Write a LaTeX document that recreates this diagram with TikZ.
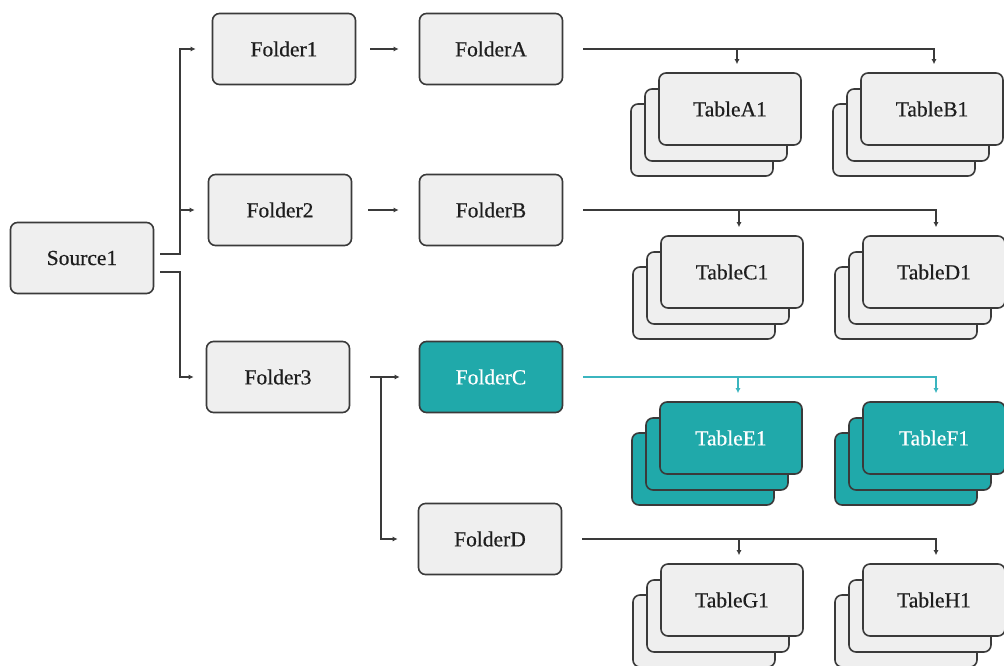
\documentclass[tikz,border=0pt]{standalone}
\usepackage{fontspec}
\setmainfont{Liberation Serif}[FakeBold=0.5]
\usetikzlibrary{arrows.meta,calc}
\definecolor{boxfill}{HTML}{EFEFEF}
\definecolor{boxline}{HTML}{3A3A3A}
\definecolor{tealfill}{HTML}{20A9AA}
\definecolor{teallink}{HTML}{3BB5BF}
\definecolor{inktext}{HTML}{1E1E1E}
\tikzset{
  box/.style={draw=boxline, fill=boxfill, rounded corners=7pt, line width=1.6pt,
    minimum width=143pt, minimum height=71pt, inner sep=0pt, text=inktext,
    font=\fontsize{21.5}{24}\selectfont},
  tbl/.style={box, minimum width=142pt, minimum height=72pt},
  hl/.style={fill=tealfill, text=white},
  link/.style={draw=boxline, line width=1.4pt, -{Latex[length=5pt,width=5pt]}},
  hllink/.style={link, draw=teallink, -{Latex[length=5pt,width=5pt,color=teallink]}}
}
\newcommand{\tablestack}[4]{% name, x, y, extra style
  \node[tbl,#4] (#1c) at (#2-28,#3+31) {};
  \node[tbl,#4] (#1b) at (#2-14,#3+16) {};
  \node[tbl,#4] (#1) at (#2,#3) {Table#1};
}
\begin{document}
\begin{tikzpicture}[x=1pt,y=-1pt]
\useasboundingbox (0,0) rectangle (1004,665);

% source and first level folders
\node[box] (src) at (82,258) {Source1};
\node[box] (f1) at (284,49) {Folder1};
\node[box] (f2) at (280,210) {Folder2};
\node[box] (f3) at (278,377) {Folder3};

% second level folders
\node[box] (fA) at (491,49) {FolderA};
\node[box] (fB) at (491,210) {FolderB};
\node[box,hl] (fC) at (491,377) {FolderC};
\node[box] (fD) at (490,539) {FolderD};

% table stacks
\tablestack{A1}{730}{109}{}
\tablestack{B1}{932}{109}{}
\tablestack{C1}{732}{272}{}
\tablestack{D1}{934}{272}{}
\tablestack{E1}{731}{438}{hl}
\tablestack{F1}{934}{438}{hl}
\tablestack{G1}{732}{600}{}
\tablestack{H1}{934}{600}{}

% junction points
\coordinate (j1) at (180,254);
\coordinate (j2) at (180,272);
\coordinate (j3) at (381,377);

% source to first level
\draw[link] ([xshift=6pt,yshift=4pt]src.east) -- (j1) |- ([xshift=-16pt]f1.west);
\draw[link] (j1 |- f2.west) -- ([xshift=-13pt]f2.west);
\draw[link] ([xshift=6pt,yshift=-14pt]src.east) -- (j2) |- ([xshift=-12pt]f3.west);

% first level to second level
\draw[link] ([xshift=14pt]f1.east) -- ([xshift=-20pt]fA.west);
\draw[link] ([xshift=16pt]f2.east) -- ([xshift=-20pt]fB.west);
\draw[link] ([xshift=20pt]f3.east) -- ([xshift=-19pt]fC.west);
\draw[link] (j3) |- ([xshift=-20pt]fD.west);

% folders to tables
\foreach \f/\a/\b in {fA/A1/B1, fB/C1/D1, fD/G1/H1}{
  \draw[link, shorten >=8pt] ([xshift=20pt]\f.east) -| ([xshift=7pt]\a.north);
  \draw[link, shorten >=8pt] ([xshift=20pt]\f.east) -| ([xshift=2pt]\b.north);
}
\draw[hllink, shorten >=8pt] ([xshift=20pt]fC.east) -| ([xshift=7pt]E1.north);
\draw[hllink, shorten >=8pt] ([xshift=20pt]fC.east) -| ([xshift=2pt]F1.north);
\end{tikzpicture}
\end{document}
